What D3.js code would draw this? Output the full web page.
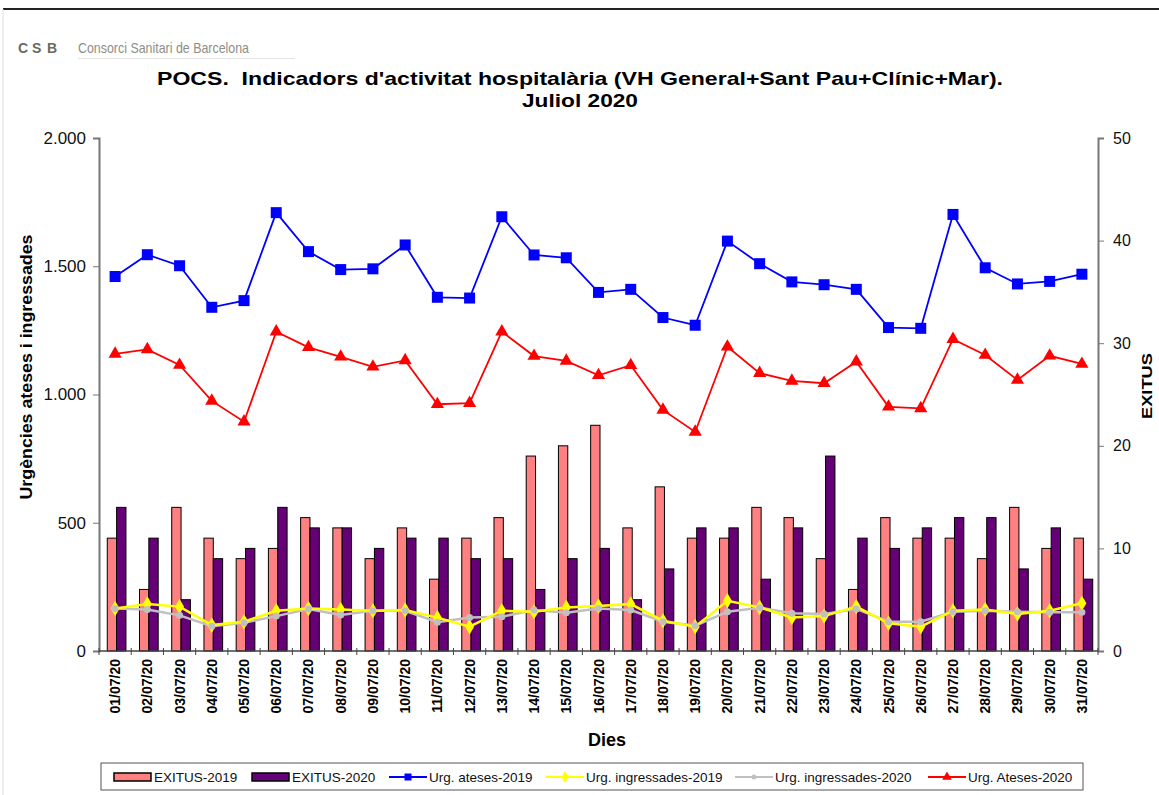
<!DOCTYPE html>
<html><head><meta charset="utf-8">
<script src="https://cdn.jsdelivr.net/npm/d3@7"></script>
<style>body{margin:0;background:#fff}svg{display:block}text{font-family:"Liberation Sans",Arial,sans-serif}</style>
</head><body>
<svg id="c" width="1159" height="795"></svg>
<script>
const days = ["01/07/20","02/07/20","03/07/20","04/07/20","05/07/20","06/07/20","07/07/20","08/07/20","09/07/20","10/07/20","11/07/20","12/07/20","13/07/20","14/07/20","15/07/20","16/07/20","17/07/20","18/07/20","19/07/20","20/07/20","21/07/20","22/07/20","23/07/20","24/07/20","25/07/20","26/07/20","27/07/20","28/07/20","29/07/20","30/07/20","31/07/20"];
const exitus2019 = [11,6,14,11,9,10,13,12,9,12,7,11,13,19,20,22,12,16,11,11,14,13,9,6,13,11,11,9,14,10,11];
const exitus2020 = [14,11,5,9,10,14,12,12,10,11,11,9,9,6,9,10,5,8,12,12,7,12,19,11,10,12,13,13,8,12,7];
const urgAteses2019 = [1460,1545,1502,1340,1366,1709,1557,1487,1490,1583,1379,1376,1693,1544,1533,1398,1410,1300,1270,1598,1510,1439,1428,1410,1261,1258,1702,1494,1431,1441,1469];
const urgIngressades2019 = [166,183,173,101,114,157,166,162,157,160,130,95,157,153,170,175,183,118,95,196,170,131,136,173,108,95,157,162,144,157,186];
const urgIngressades2020 = [166,162,139,97,110,136,164,140,157,157,112,131,134,160,149,166,160,114,99,153,169,147,144,164,114,114,153,157,153,151,151];
const urgAteses2020 = [1158,1176,1115,975,894,1245,1184,1147,1108,1133,962,966,1245,1150,1131,1075,1114,940,854,1186,1083,1053,1044,1128,952,946,1216,1154,1057,1151,1119];
const leftTicks = [0,500,1000,1500,2000];
const rightTicks = [0,10,20,30,40,50];

const svg = d3.select("#c");
const L = 99, R = 1098, T = 138, B = 651;
const x = d3.scaleBand().domain(days).range([L, R]);
const yL = d3.scaleLinear().domain([0, 2000]).range([B, T]);
const yR = d3.scaleLinear().domain([0, 50]).range([B, T]);
const loc = d3.formatLocale({decimal: ",", thousands: ".", grouping: [3], currency: ["", "€"]});
const fmt = loc.format(",");

// frame lines
svg.append("line").attr("x1", 3).attr("x2", 1159).attr("y1", 9).attr("y2", 9).attr("stroke", "#222").attr("stroke-width", 2);
svg.append("line").attr("x1", 3).attr("x2", 3).attr("y1", 9).attr("y2", 795).attr("stroke", "#ddd").attr("stroke-width", 1);

// logo
const logo = svg.append("g");
[["C", 18], ["S", 32], ["B", 47]].forEach(([t, lx]) => {
  logo.append("text").attr("x", lx).attr("y", 53).attr("font-size", 14).attr("font-weight", "bold").attr("fill", "#6a6a5e").text(t);
});
logo.append("text").attr("x", 78).attr("y", 53).attr("font-size", 15).attr("fill", "#8e8e86")
  .attr("textLength", 171).attr("lengthAdjust", "spacingAndGlyphs").text("Consorci Sanitari de Barcelona");
logo.append("line").attr("x1", 78).attr("x2", 295).attr("y1", 58.5).attr("y2", 58.5).attr("stroke", "#e4e4e4");

// title
svg.append("text").attr("x", 157).attr("y", 85).attr("font-size", 19).attr("font-weight", "bold")
  .attr("textLength", 846).attr("lengthAdjust", "spacingAndGlyphs")
  .style("white-space", "pre").text("POCS.  Indicadors d'activitat hospitalària (VH General+Sant Pau+Clínic+Mar).");
svg.append("text").attr("x", 522).attr("y", 107).attr("font-size", 19).attr("font-weight", "bold")
  .attr("textLength", 116).attr("lengthAdjust", "spacingAndGlyphs").text("Juliol 2020");

// bars
const bw = x.bandwidth() * 0.29;
const g = svg.append("g");
days.forEach((d, i) => {
  const cx = x(d) + x.bandwidth() / 2 + 1.5;
  g.append("rect").attr("x", cx - bw).attr("y", yR(exitus2019[i])).attr("width", bw).attr("height", yR(0) - yR(exitus2019[i]))
    .attr("fill", "#ff8080").attr("stroke", "#000").attr("stroke-width", 1);
  g.append("rect").attr("x", cx).attr("y", yR(exitus2020[i])).attr("width", bw).attr("height", yR(0) - yR(exitus2020[i]))
    .attr("fill", "#660077").attr("stroke", "#000").attr("stroke-width", 1);
});

// axes
const axL = svg.append("g").attr("transform", `translate(${L},0)`)
  .call(d3.axisLeft(yL).tickValues(leftTicks).tickFormat(fmt).tickSize(6).tickPadding(7));
axL.selectAll("text").attr("font-size", 17).attr("fill", "#111");
axL.select(".domain").attr("stroke", "#777").attr("stroke-width", 2);
axL.selectAll(".tick line").attr("stroke", "#777");
const axR = svg.append("g").attr("transform", `translate(${R},0)`)
  .call(d3.axisRight(yR).tickValues(rightTicks).tickSize(6).tickPadding(9));
axR.selectAll("text").attr("font-size", 16).attr("fill", "#111");
axR.select(".domain").attr("stroke", "#777").attr("stroke-width", 2);
axR.selectAll(".tick line").attr("stroke", "#777");

const axB = svg.append("g").attr("transform", `translate(0,${B})`);
axB.append("line").attr("x1", L).attr("x2", R).attr("stroke", "#444").attr("stroke-width", 1.5);
axB.selectAll(".tk").data(days.concat(["_end"])).join("line")
  .attr("x1", (d, i) => i < days.length ? x(d) : R).attr("x2", (d, i) => i < days.length ? x(d) : R)
  .attr("y1", -3).attr("y2", 4).attr("stroke", "#444");
axB.selectAll(".lb").data(days).join("text")
  .attr("transform", d => `translate(${x(d) + x.bandwidth() / 2 + 5},8) rotate(-90)`)
  .attr("text-anchor", "end").attr("font-size", 14).attr("font-weight", "bold").text(d => d);

// lines
const cxOf = i => x(days[i]) + x.bandwidth() / 2;
function series(vals, color, width) {
  const line = d3.line().x((v, i) => cxOf(i)).y(v => yL(v));
  svg.append("path").datum(vals).attr("d", line).attr("fill", "none").attr("stroke", color).attr("stroke-width", width);
}
series(urgIngressades2020, "#c0c0c0", 2.5);
series(urgIngressades2019, "#ffff00", 2.5);
series(urgAteses2019, "#0000ff", 1.8);
series(urgAteses2020, "#ff0000", 1.8);
svg.append("g").selectAll("path").data(urgIngressades2019).join("path")
  .attr("d", d3.symbol(d3.symbolDiamond, 70)).attr("transform", (v, i) => `translate(${cxOf(i)},${yL(v)})`).attr("fill", "#ffff00");
svg.append("g").selectAll("circle").data(urgIngressades2020).join("circle")
  .attr("cx", (v, i) => cxOf(i)).attr("cy", v => yL(v)).attr("r", 3.5).attr("fill", "#c0c0c0");
svg.append("g").selectAll("rect").data(urgAteses2019).join("rect")
  .attr("x", (v, i) => cxOf(i) - 5.5).attr("y", v => yL(v) - 5.5).attr("width", 11).attr("height", 11).attr("fill", "#0000ff");
svg.append("g").selectAll("path").data(urgAteses2020).join("path")
  .attr("d", d3.symbol(d3.symbolTriangle, 75)).attr("transform", (v, i) => `translate(${cxOf(i)},${yL(v)})`).attr("fill", "#ff0000");

// axis titles
svg.append("text").attr("transform", "translate(32,367) rotate(-90)").attr("text-anchor", "middle")
  .attr("font-size", 17).attr("font-weight", "bold").attr("textLength", 265).attr("lengthAdjust", "spacingAndGlyphs")
  .text("Urgències ateses i ingressades");
svg.append("text").attr("transform", "translate(1152,386) rotate(-90)").attr("text-anchor", "middle")
  .attr("font-size", 14).attr("font-weight", "bold").attr("textLength", 66).attr("lengthAdjust", "spacingAndGlyphs").text("EXITUS");
svg.append("text").attr("x", 607).attr("y", 746).attr("text-anchor", "middle").attr("font-size", 18).attr("font-weight", "bold").text("Dies");

// legend
const leg = svg.append("g");
leg.append("rect").attr("x", 101).attr("y", 763).attr("width", 982).attr("height", 27).attr("fill", "#fff").attr("stroke", "#555");
const ly = 777;
const legItems = [
  {t: "EXITUS-2019", k: "bar", c: "#ff8080", x: 114},
  {t: "EXITUS-2020", k: "bar", c: "#660077", x: 252},
  {t: "Urg. ateses-2019", k: "sq", c: "#0000ff", x: 389},
  {t: "Urg. ingressades-2019", k: "dia", c: "#ffff00", x: 546},
  {t: "Urg. ingressades-2020", k: "cir", c: "#c0c0c0", x: 735},
  {t: "Urg. Ateses-2020", k: "tri", c: "#ff0000", x: 928}
];
legItems.forEach(it => {
  if (it.k === "bar") {
    leg.append("rect").attr("x", it.x).attr("y", ly - 4).attr("width", 37).attr("height", 8).attr("fill", it.c).attr("stroke", "#000").attr("stroke-width", 1.5);
  } else {
    leg.append("line").attr("x1", it.x).attr("x2", it.x + 38).attr("y1", ly).attr("y2", ly).attr("stroke", it.c).attr("stroke-width", 2);
    const m = it.x + 19;
    if (it.k === "sq") leg.append("rect").attr("x", m - 3.5).attr("y", ly - 3.5).attr("width", 7).attr("height", 7).attr("fill", it.c);
    if (it.k === "dia") leg.append("path").attr("d", d3.symbol(d3.symbolDiamond, 40)).attr("transform", `translate(${m},${ly})`).attr("fill", it.c);
    if (it.k === "cir") leg.append("circle").attr("cx", m).attr("cy", ly).attr("r", 2.5).attr("fill", it.c);
    if (it.k === "tri") leg.append("path").attr("d", d3.symbol(d3.symbolTriangle, 40)).attr("transform", `translate(${m},${ly})`).attr("fill", it.c);
  }
  leg.append("text").attr("x", it.x + 40).attr("y", ly + 4.5).attr("font-size", 13.5).attr("fill", "#111").text(it.t);
});
</script>
</body></html>
